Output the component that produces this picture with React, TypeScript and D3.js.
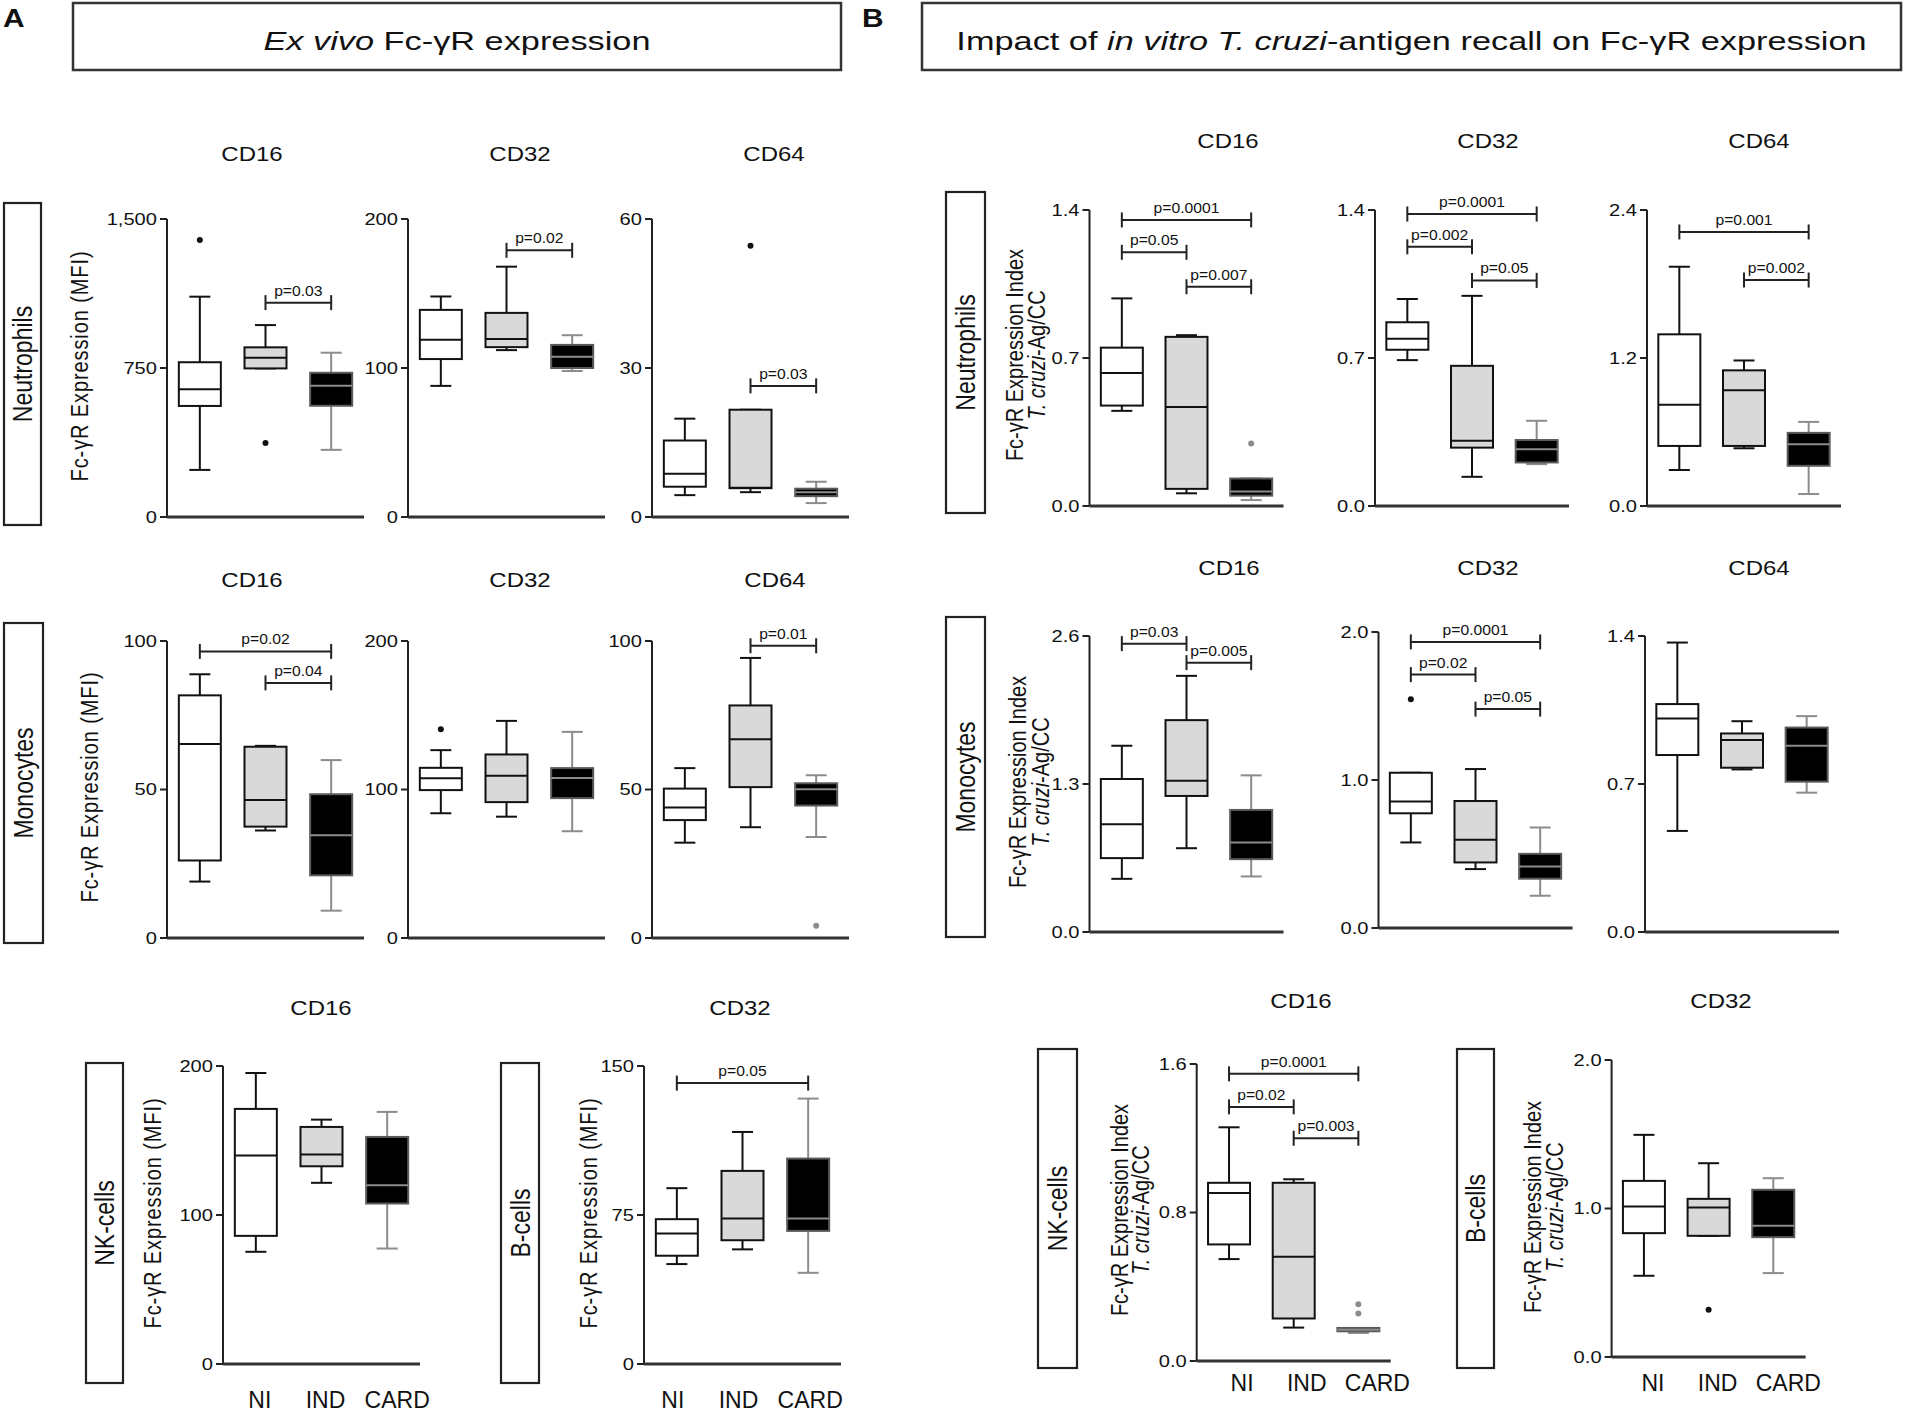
import React from "react";
import * as d3 from "d3";

// ---------- categories ----------
const groups = ["NI", "IND", "CARD"];

// ---------- Panel A: ex vivo Fc-γR expression (MFI) ----------
// five-number summaries per group: [low whisker, Q1, median, Q3, high whisker]
const exNeutCD16 = [[237, 559, 643, 779, 1109], [748, 748, 802, 854, 966], [338, 560, 661, 726, 827]];
const exNeutCD16Out = [[1394], [373], []];
const exNeutCD16Sig = [[1, 2, 1079, "p=0.03"]];
const exNeutCD16Ticks = [0, 750, 1500];

const exNeutCD32 = [[88, 106, 119, 139, 148], [112, 114, 119.5, 137, 168], [98, 100, 107.5, 115.5, 122]];
const exNeutCD32Out = [[], [], []];
const exNeutCD32Sig = [[1, 2, 179, "p=0.02"]];
const exNeutCD32Ticks = [0, 100, 200];

const exNeutCD64 = [[4.4, 6.1, 8.7, 15.4, 19.8], [5.0, 5.8, 5.9, 21.6, 21.6], [2.8, 4.2, 5.0, 5.7, 7.1]];
const exNeutCD64Out = [[], [54.6], []];
const exNeutCD64Sig = [[1, 2, 26.4, "p=0.03"]];
const exNeutCD64Ticks = [0, 30, 60];

const exMonoCD16 = [[19, 26.1, 65.3, 81.7, 88.8], [36.2, 37.5, 46.5, 64.4, 64.7], [9.2, 21.1, 34.6, 48.4, 59.9]];
const exMonoCD16Out = [[], [], []];
const exMonoCD16Sig = [[0, 2, 96.5, "p=0.02"], [1, 2, 85.9, "p=0.04"]];
const exMonoCD16Ticks = [0, 50, 100];

const exMonoCD32 = [[84, 99.6, 107.5, 114.6, 126.5], [81.7, 91.5, 109.2, 123.6, 146.2], [71.9, 94.2, 107.7, 114.4, 138.8]];
const exMonoCD32Out = [[140.6], [], []];
const exMonoCD32Sig = [];
const exMonoCD32Ticks = [0, 100, 200];

const exMonoCD64 = [[32.1, 39.7, 43.9, 50.3, 57.2], [37.3, 50.8, 66.9, 78.3, 94.3], [34, 44.6, 50.1, 52.1, 54.8]];
const exMonoCD64Out = [[], [], [4.1]];
const exMonoCD64Sig = [[1, 2, 98.4, "p=0.01"]];
const exMonoCD64Ticks = [0, 50, 100];

const exNkCD16 = [[75.3, 86, 139.9, 171.2, 195.3], [121.6, 132.7, 140.6, 159.1, 164], [77.5, 107.7, 120, 152.4, 169.2]];
const exNkCD16Out = [[], [], []];
const exNkCD16Sig = [];
const exNkCD16Ticks = [0, 100, 200];

const exBCD32 = [[50.3, 54.5, 65.7, 72.9, 88.5], [57.7, 62.3, 73.2, 97.2, 116.8], [45.9, 67, 73.2, 103.4, 133.6]];
const exBCD32Out = [[], [], []];
const exBCD32Sig = [[0, 2, 141.4, "p=0.05"]];
const exBCD32Ticks = [0, 75, 150];

// ---------- Panel B: T. cruzi-antigen recall (index Ag/CC) ----------
const agNeutCD16 = [[0.45, 0.475, 0.629, 0.749, 0.982], [0.06, 0.081, 0.468, 0.8, 0.808], [0.028, 0.049, 0.068, 0.13, 0.13]];
const agNeutCD16Out = [[], [], [0.296]];
const agNeutCD16Sig = [[0, 2, 1.353, "p=0.0001"], [0, 1, 1.2, "p=0.05"], [1, 2, 1.037, "p=0.007"]];
const agNeutCD16Ticks = [0, 0.7, 1.4];

const agNeutCD32 = [[0.69, 0.739, 0.791, 0.869, 0.979], [0.138, 0.276, 0.309, 0.663, 0.994], [0.198, 0.206, 0.268, 0.312, 0.403]];
const agNeutCD32Out = [[], [], []];
const agNeutCD32Sig = [[0, 2, 1.381, "p=0.0001"], [0, 1, 1.226, "p=0.002"], [1, 2, 1.067, "p=0.05"]];
const agNeutCD32Ticks = [0, 0.7, 1.4];

const agNeutCD64 = [[0.292, 0.487, 0.821, 1.392, 1.94], [0.468, 0.487, 0.938, 1.1, 1.18], [0.097, 0.326, 0.501, 0.593, 0.682]];
const agNeutCD64Out = [[], [], []];
const agNeutCD64Sig = [[0, 2, 2.222, "p=0.001"], [1, 2, 1.832, "p=0.002"]];
const agNeutCD64Ticks = [0, 1.2, 2.4];

const agMonoCD16 = [[0.467, 0.649, 0.947, 1.344, 1.636], [0.736, 1.195, 1.329, 1.861, 2.25], [0.488, 0.64, 0.786, 1.072, 1.376]];
const agMonoCD16Out = [[], [], []];
const agMonoCD16Sig = [[0, 1, 2.533, "p=0.03"], [1, 2, 2.366, "p=0.005"]];
const agMonoCD16Ticks = [0, 1.3, 2.6];

const agMonoCD32 = [[0.578, 0.775, 0.854, 1.049, 1.049], [0.398, 0.443, 0.596, 0.858, 1.074], [0.218, 0.333, 0.416, 0.501, 0.679]];
const agMonoCD32Out = [[1.546], [], []];
const agMonoCD32Sig = [[0, 2, 1.933, "p=0.0001"], [0, 1, 1.712, "p=0.02"], [1, 2, 1.479, "p=0.05"]];
const agMonoCD32Ticks = [0, 1.0, 2.0];

const agMonoCD64 = [[0.478, 0.837, 1.01, 1.078, 1.369], [0.769, 0.777, 0.908, 0.939, 0.997], [0.659, 0.711, 0.881, 0.967, 1.021]];
const agMonoCD64Out = [[], [], []];
const agMonoCD64Sig = [];
const agMonoCD64Ticks = [0, 0.7, 1.4];

const agNkCD16 = [[0.549, 0.628, 0.905, 0.96, 1.259], [0.18, 0.229, 0.562, 0.96, 0.979], [0.151, 0.16, 0.169, 0.178, 0.178]];
const agNkCD16Out = [[], [], [0.256, 0.306]];
const agNkCD16Sig = [[0, 2, 1.547, "p=0.0001"], [0, 1, 1.369, "p=0.02"], [1, 2, 1.2, "p=0.003"]];
const agNkCD16Ticks = [0, 0.8, 1.6];

const agBCD32 = [[0.547, 0.834, 1.013, 1.186, 1.496], [0.816, 0.816, 1.007, 1.065, 1.305], [0.565, 0.807, 0.883, 1.126, 1.204]];
const agBCD32Out = [[], [0.318], []];
const agBCD32Sig = [];
const agBCD32Ticks = [0, 1.0, 2.0];

// ---------- styles ----------
const FONT = "'Liberation Sans', Arial, Helvetica, sans-serif";
const groupStyle = [
  { fill: "#ffffff", stroke: "#111", median: "#111", whisker: "#111", dot: "#111" },
  { fill: "#d9d9d9", stroke: "#111", median: "#111", whisker: "#111", dot: "#111" },
  { fill: "#000000", stroke: "#5a5a5a", median: "#8c8c8c", whisker: "#8c8c8c", dot: "#8c8c8c" },
];
const fmtComma = d3.format(",");
const fmtInt = d3.format("d");
const fmt1 = d3.format(".1f");

// ---------- layout ----------
const panels = [
  // A row 1
  { title: "CD16", data: exNeutCD16, out: exNeutCD16Out, sig: exNeutCD16Sig, ticks: exNeutCD16Ticks, fmt: fmtComma, x: 167, top: 219, bottom: 517, w: 197, tx: 252, ty: 161 },
  { title: "CD32", data: exNeutCD32, out: exNeutCD32Out, sig: exNeutCD32Sig, ticks: exNeutCD32Ticks, fmt: fmtInt, x: 408, top: 219, bottom: 517, w: 197, tx: 520, ty: 161 },
  { title: "CD64", data: exNeutCD64, out: exNeutCD64Out, sig: exNeutCD64Sig, ticks: exNeutCD64Ticks, fmt: fmtInt, x: 652, top: 219, bottom: 517, w: 197, tx: 774, ty: 161 },
  // A row 2
  { title: "CD16", data: exMonoCD16, out: exMonoCD16Out, sig: exMonoCD16Sig, ticks: exMonoCD16Ticks, fmt: fmtInt, x: 167, top: 641, bottom: 938, w: 197, tx: 252, ty: 587 },
  { title: "CD32", data: exMonoCD32, out: exMonoCD32Out, sig: exMonoCD32Sig, ticks: exMonoCD32Ticks, fmt: fmtInt, x: 408, top: 641, bottom: 938, w: 197, tx: 520, ty: 587 },
  { title: "CD64", data: exMonoCD64, out: exMonoCD64Out, sig: exMonoCD64Sig, ticks: exMonoCD64Ticks, fmt: fmtInt, x: 652, top: 641, bottom: 938, w: 197, tx: 775, ty: 587 },
  // A row 3
  { title: "CD16", data: exNkCD16, out: exNkCD16Out, sig: exNkCD16Sig, ticks: exNkCD16Ticks, fmt: fmtInt, x: 223, top: 1066, bottom: 1364, w: 197, tx: 321, ty: 1015, xlab: 1408, xdx: 4 },
  { title: "CD32", data: exBCD32, out: exBCD32Out, sig: exBCD32Sig, ticks: exBCD32Ticks, fmt: fmtInt, x: 644, top: 1066, bottom: 1364, w: 197, tx: 740, ty: 1015, xlab: 1408, xdx: -4 },
  // B row 1
  { title: "CD16", data: agNeutCD16, out: agNeutCD16Out, sig: agNeutCD16Sig, ticks: agNeutCD16Ticks, fmt: fmt1, x: 1089.5, top: 210, bottom: 506, w: 194, tx: 1228, ty: 148 },
  { title: "CD32", data: agNeutCD32, out: agNeutCD32Out, sig: agNeutCD32Sig, ticks: agNeutCD32Ticks, fmt: fmt1, x: 1375, top: 210, bottom: 506, w: 194, tx: 1488, ty: 148 },
  { title: "CD64", data: agNeutCD64, out: agNeutCD64Out, sig: agNeutCD64Sig, ticks: agNeutCD64Ticks, fmt: fmt1, x: 1647, top: 210, bottom: 506, w: 194, tx: 1759, ty: 148 },
  // B row 2
  { title: "CD16", data: agMonoCD16, out: agMonoCD16Out, sig: agMonoCD16Sig, ticks: agMonoCD16Ticks, fmt: fmt1, x: 1089.5, top: 636, bottom: 932, w: 194, tx: 1229, ty: 575 },
  { title: "CD32", data: agMonoCD32, out: agMonoCD32Out, sig: agMonoCD32Sig, ticks: agMonoCD32Ticks, fmt: fmt1, x: 1378.5, top: 632, bottom: 928, w: 194, tx: 1488, ty: 575 },
  { title: "CD64", data: agMonoCD64, out: agMonoCD64Out, sig: agMonoCD64Sig, ticks: agMonoCD64Ticks, fmt: fmt1, x: 1645, top: 636, bottom: 932, w: 194, tx: 1759, ty: 575 },
  // B row 3
  { title: "CD16", data: agNkCD16, out: agNkCD16Out, sig: agNkCD16Sig, ticks: agNkCD16Ticks, fmt: fmt1, x: 1196.7, top: 1064, bottom: 1361, w: 194, tx: 1301, ty: 1008, xlab: 1391, xdx: 13 },
  { title: "CD32", data: agBCD32, out: agBCD32Out, sig: agBCD32Sig, ticks: agBCD32Ticks, fmt: fmt1, x: 1611.6, top: 1060, bottom: 1357, w: 194, tx: 1721, ty: 1008, xlab: 1391, xdx: 9 },
];

const rowBoxes = [
  { label: "Neutrophils", x: 4, y: 203, w: 37, h: 322 },
  { label: "Monocytes", x: 4, y: 623, w: 39, h: 320 },
  { label: "NK-cells", x: 86, y: 1063, w: 37, h: 320 },
  { label: "B-cells", x: 501, y: 1063, w: 38, h: 320 },
  { label: "Neutrophils", x: 946, y: 192, w: 39, h: 321 },
  { label: "Monocytes", x: 946, y: 617, w: 39, h: 320 },
  { label: "NK-cells", x: 1038, y: 1049, w: 39, h: 319 },
  { label: "B-cells", x: 1457, y: 1049, w: 37, h: 319 },
];

const mfiLabels = [
  { x: 80, y: 366 },
  { x: 90, y: 787 },
  { x: 153, y: 1213 },
  { x: 589, y: 1213 },
];
const indexLabels = [
  { x1: 1015, x2: 1037, y: 355 },
  { x1: 1018, x2: 1041, y: 782 },
  { x1: 1120, x2: 1141, y: 1210 },
  { x1: 1533, x2: 1555, y: 1207 },
];

function T({ x, y, sx = 1, rot = 0, size, anchor = "middle", weight = "normal", fill = "#111", dy, style, ls, children }: any) {
  return (
    <text
      transform={`translate(${x},${y}) scale(${sx},1)${rot ? ` rotate(${rot})` : ""}`}
      fontSize={size}
      textAnchor={anchor}
      fontFamily={FONT}
      fontWeight={weight}
      fill={fill}
      dy={dy}
      fontStyle={style}
      letterSpacing={ls}
    >
      {children}
    </text>
  );
}

function Panel({ p }: any) {
  const max = p.ticks[p.ticks.length - 1];
  const y = d3.scaleLinear().domain([0, max]).range([p.bottom, p.top]);
  const xb = d3.scaleBand().domain(groups).range([p.x, p.x + p.w]);
  const cx = (i: number) => (xb(groups[i]) as number) + xb.bandwidth() / 2;
  const bw = 42;
  const cap = 10.5;
  return (
    <g>
      <T x={p.tx} y={p.ty} size={20.5} sx={1.17}>{p.title}</T>
      {/* axes */}
      <line x1={p.x} x2={p.x} y1={y(max)} y2={y(0)} stroke="#222" strokeWidth={2} />
      <line x1={p.x} x2={p.x + p.w} y1={y(0)} y2={y(0)} stroke="#333" strokeWidth={3} />
      {p.ticks.map((t: number) => (
        <g key={t}>
          <line x1={p.x - 7} x2={p.x} y1={y(t)} y2={y(t)} stroke="#222" strokeWidth={2} />
          <T x={p.x - 10} y={y(t)} size={16.5} sx={1.22} anchor="end" dy="0.36em">{p.fmt(t)}</T>
        </g>
      ))}
      {/* boxes */}
      {p.data.map((s: number[], i: number) => {
        const st = groupStyle[i];
        const c = cx(i);
        return (
          <g key={i}>
            <line x1={c} x2={c} y1={y(s[3])} y2={y(s[4])} stroke={st.whisker} strokeWidth={2} />
            <line x1={c - cap} x2={c + cap} y1={y(s[4])} y2={y(s[4])} stroke={st.whisker} strokeWidth={2} />
            <line x1={c} x2={c} y1={y(s[1])} y2={y(s[0])} stroke={st.whisker} strokeWidth={2} />
            <line x1={c - cap} x2={c + cap} y1={y(s[0])} y2={y(s[0])} stroke={st.whisker} strokeWidth={2} />
            <rect x={c - bw / 2} width={bw} y={y(s[3])} height={Math.max(0.5, y(s[1]) - y(s[3]))} fill={st.fill} stroke={st.stroke} strokeWidth={2} />
            <line x1={c - bw / 2} x2={c + bw / 2} y1={y(s[2])} y2={y(s[2])} stroke={st.median} strokeWidth={2} />
            {p.out[i].map((o: number, k: number) => (
              <circle key={k} cx={c} cy={y(o)} r={3} fill={st.dot} />
            ))}
          </g>
        );
      })}
      {/* significance brackets */}
      {p.sig.map((b: any, k: number) => {
        const x1 = cx(b[0]);
        const x2 = cx(b[1]);
        const yy = y(b[2]);
        return (
          <g key={k}>
            <line x1={x1} x2={x2} y1={yy} y2={yy} stroke="#222" strokeWidth={2} />
            <line x1={x1} x2={x1} y1={yy - 7.5} y2={yy + 7.5} stroke="#222" strokeWidth={2} />
            <line x1={x2} x2={x2} y1={yy - 7.5} y2={yy + 7.5} stroke="#222" strokeWidth={2} />
            <T x={(x1 + x2) / 2} y={yy - 7} size={14} sx={1.12}>{b[3]}</T>
          </g>
        );
      })}
      {/* category labels */}
      {p.xlab
        ? groups.map((g, i) => (
            <T key={g} x={cx(i) + p.xdx + (i === 2 ? 6 : 0)} y={p.xlab} size={23}>{g}</T>
          ))
        : null}
    </g>
  );
}

export default function App() {
  return (
    <svg width={1905} height={1412} style={{ position: "absolute", left: 0, top: 0, background: "#fff" }}>
      <rect width={1905} height={1412} fill="#fff" />
      {/* panel letters */}
      <T x={3} y={27} size={26} weight="bold" anchor="start" sx={1.15}>A</T>
      <T x={862} y={27} size={26} weight="bold" anchor="start" sx={1.15}>B</T>
      {/* title boxes */}
      <rect x={73} y={3} width={768} height={67} fill="none" stroke="#333" strokeWidth={2.5} />
      <T x={457} y={50} size={26} sx={1.32}>
        <tspan fontStyle="italic">Ex vivo</tspan>
        <tspan> Fc-γR expression</tspan>
      </T>
      <rect x={922} y={3} width={979} height={67} fill="none" stroke="#333" strokeWidth={2.5} />
      <T x={1411.5} y={50} size={26} sx={1.32}>
        <tspan>Impact of </tspan>
        <tspan fontStyle="italic">in vitro T. cruzi</tspan>
        <tspan>-antigen recall on Fc-γR expression</tspan>
      </T>
      {/* row label boxes */}
      {rowBoxes.map((b, i) => (
        <g key={i}>
          <rect x={b.x} y={b.y} width={b.w} height={b.h} fill="#fff" stroke="#222" strokeWidth={2.2} />
          <T x={b.x + b.w / 2} y={b.y + b.h / 2} size={23} sx={1.2} rot={-90} dy="0.35em">{b.label}</T>
        </g>
      ))}
      {/* y axis titles */}
      {mfiLabels.map((l, i) => (
        <T key={i} x={l.x} y={l.y} size={20} sx={1.15} rot={-90} dy="0.35em" ls={0.9}>Fc-γR Expression (MFI)</T>
      ))}
      {indexLabels.map((l, i) => (
        <g key={i}>
          <T x={l.x1} y={l.y} size={20} sx={1.15} rot={-90} dy="0.35em">Fc-γR Expression Index</T>
          <T x={l.x2} y={l.y} size={20} sx={1.15} rot={-90} dy="0.35em">
            <tspan fontStyle="italic">T. cruzi</tspan>
            <tspan>-Ag/CC</tspan>
          </T>
        </g>
      ))}
      {panels.map((p, i) => (
        <Panel key={i} p={p} />
      ))}
    </svg>
  );
}
